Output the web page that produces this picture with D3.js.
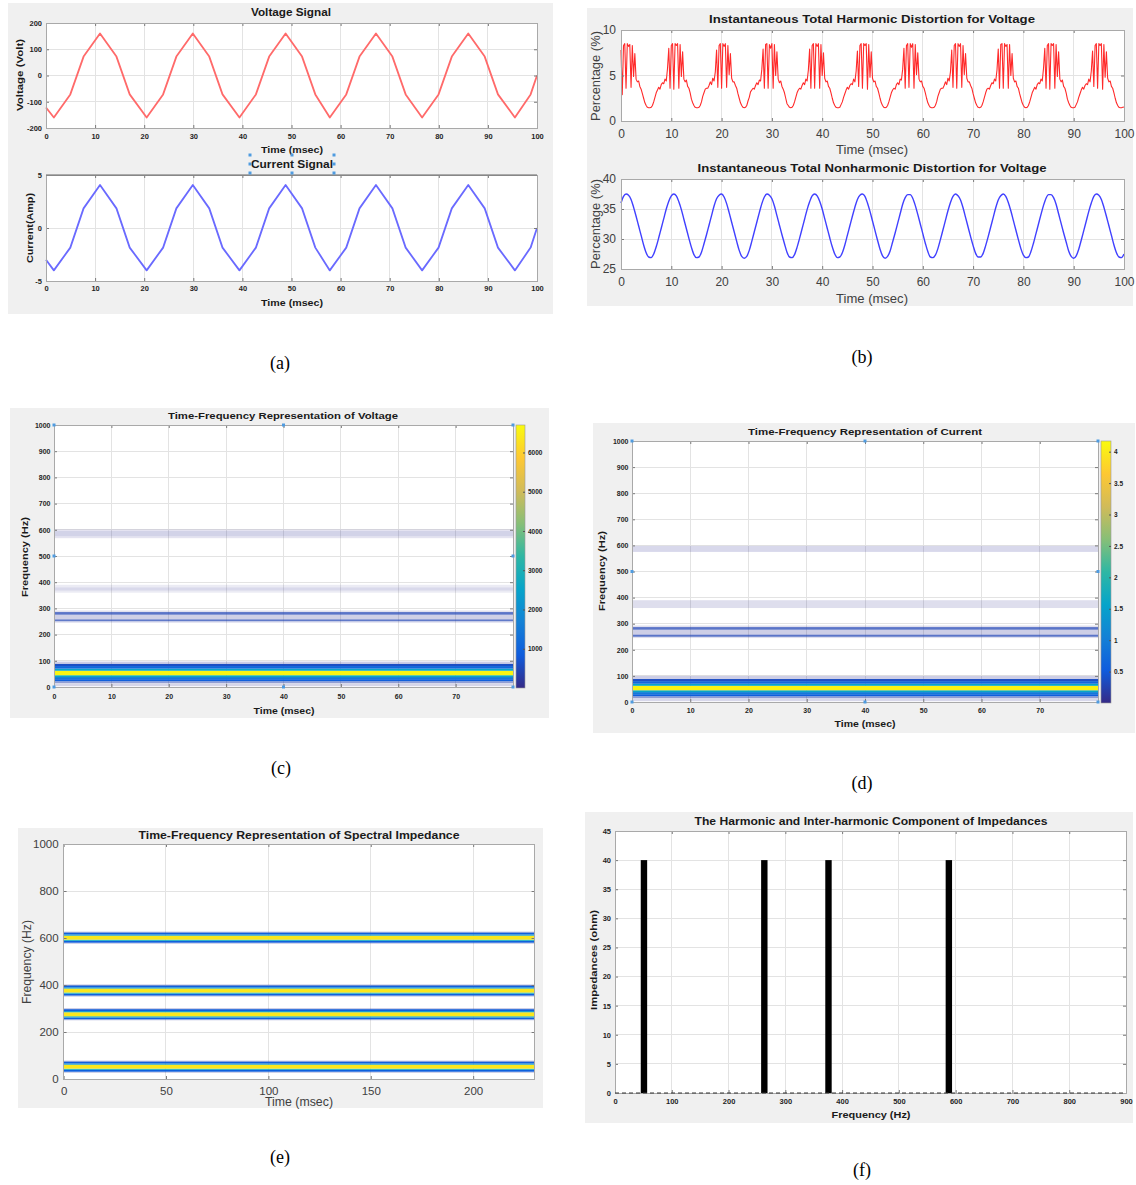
<!DOCTYPE html>
<html>
<head>
<meta charset="utf-8">
<script src="https://cdn.jsdelivr.net/npm/d3@7/dist/d3.min.js"></script>
<style>
  body { margin: 0; background: #ffffff; }
  svg { display: block; font-family: "Liberation Sans", Arial, sans-serif; }
</style>
</head>
<body>
<script>
//wrap everything in a self-executing anonymous function
(function(){

    //---------------- data ----------------

    //(a) voltage / current signal vertices (msec, Volt / Amp)
    var sigTime = [0,1.6,4.95,7.65,11.0,14.35,17.05,20.5,23.85,26.55,29.9,33.25,35.95,39.4,42.75,45.45,48.8,52.15,54.85,57.8,61.15,63.85,67.2,70.55,73.25,76.6,79.95,82.65,86.0,89.35,92.05,95.5,98.7,100];
    var voltValue = [-122,-160,-72,72,160,72,-72,-160,-72,72,160,72,-72,-160,-72,72,160,72,-72,-160,-72,72,160,72,-72,-160,-72,72,160,72,-72,-160,-72,0];
    var currValue = [-3.0,-4.0,-1.85,1.85,4.05,1.85,-1.85,-4.0,-1.85,1.85,4.05,1.85,-1.85,-4.0,-1.85,1.85,4.05,1.85,-1.85,-4.0,-1.85,1.85,4.05,1.85,-1.85,-4.0,-1.85,1.85,4.05,1.85,-1.85,-4.0,-1.85,0];

    //(b) instantaneous THD (%), one sample every 0.25 msec
    var thdStep = 0.25;
    var thdValue = [
        7.8,2.9,8.3,8.5,3.6,8.5,8.2,8.4,3.7,8.3,4.9,7.4,4.6,4.3,4.4,3.8,3.5,3.0,2.5,2.0,1.7,1.5,1.45,
        1.45,1.5,1.7,2.1,2.6,3.1,3.4,3.7,3.5,4.0,4.2,4.1,4.6,4.4,5.8,8.0,3.6,8.3,8.5,3.5,8.5,8.3,8.5,3.6,8.4,4.9,7.6,4.6,4.3,4.5,3.8,3.6,3.1,2.4,2.0,1.7,1.5,1.45,
        1.45,1.5,1.7,2.1,2.7,3.1,3.5,3.6,3.6,3.9,4.3,4.0,4.7,4.4,5.4,7.8,3.7,8.3,8.5,3.6,8.5,8.2,8.5,3.7,8.3,5.1,7.4,4.7,4.3,4.3,3.9,3.6,3.0,2.5,2.0,1.7,1.5,
        1.45,1.5,1.7,2.2,2.6,3.2,3.4,3.6,3.5,3.9,4.2,4.0,4.5,4.4,5.7,7.9,3.6,8.4,8.5,3.6,8.4,8.0,8.5,3.6,8.4,5.0,7.6,4.6,4.2,4.4,3.8,3.5,3.1,2.5,1.9,1.7,1.5,
        1.45,1.5,1.7,2.1,2.6,3.1,3.4,3.6,3.5,3.9,4.2,4.0,4.6,4.4,5.6,7.9,3.6,8.3,8.5,3.6,8.5,8.2,8.5,3.6,8.4,5.0,7.5,4.7,4.3,4.4,3.8,3.6,3.1,2.5,2.0,1.7,1.5,1.45,
        1.45,1.5,1.8,2.1,2.6,3.0,3.4,3.7,3.5,3.9,4.1,4.0,4.6,4.3,5.5,7.7,3.8,8.3,8.5,3.6,8.5,8.3,8.5,3.5,8.4,4.8,7.6,4.7,4.3,4.4,3.8,3.6,3.1,2.5,2.0,1.7,1.5,
        1.45,1.5,1.7,2.1,2.6,3.1,3.4,3.6,3.5,4.0,4.2,4.0,4.6,4.5,5.7,8.0,3.6,8.3,8.5,3.7,8.5,8.1,8.5,3.6,8.4,5.1,7.5,4.6,4.3,4.4,3.8,3.6,3.1,2.5,2.0,1.7,1.5,1.45,
        1.45,1.5,1.7,2.1,2.7,3.1,3.5,3.6,3.6,3.9,4.3,4.0,4.7,4.4,5.4,7.8,3.7,8.3,8.5,3.6,8.5,8.2,8.5,3.7,8.3,5.1,7.4,4.7,4.3,4.3,3.9,3.6,3.0,2.5,2.0,1.7,1.5,
        1.45,1.5,1.7,2.1,2.6,3.1,3.5,3.6,3.5,3.9,4.2,4.1,4.6,4.4,5.6,7.9,3.6,8.4,8.5,3.6,8.5,8.2,8.4,3.6,8.4,5.0,7.4,4.7,4.3,4.4,3.8,3.6,3.0,2.5,2.0,1.7,1.5,
        1.45,1.5,1.7,2.1,2.6,3.1,3.4,3.7,3.5,4.0,4.2,4.1,4.6,4.4,5.8,8.0,3.6,8.3,8.5,3.5,8.5,8.3,8.5,3.6,8.4,4.9,7.6,4.6,4.3,4.5,3.8,3.6,3.1,2.4,2.0,1.7,1.5,1.45,
        1.45,1.5,1.8,2.1,2.6,3.0,3.4,3.7,3.5,3.9,4.1,4.0,4.6,4.3,5.5,7.7,3.8,8.3,8.5,3.6,8.5,8.3,8.5,3.5,8.4,4.8,7.6,4.7,4.3,4.4,3.8,3.6,3.1,2.5,2.0,1.7,1.5,
        1.45,1.45,1.5,1.55
    ];

    //(b) instantaneous total nonharmonic distortion (%), one sample every 0.5 msec
    var tnhdStep = 0.5;
    var tnhdValue = [
        36.0,37.1,37.5,37.3,36.6,35.3,33.8,32.2,30.6,29.0,27.7,27.0,
        26.9,27.5,28.7,30.2,31.8,33.4,35.0,36.3,37.2,37.5,37.2,36.2,
        34.9,33.3,31.7,30.1,28.6,27.4,26.9,27.0,27.8,29.2,30.7,32.3,
        33.9,35.5,36.7,37.3,37.5,37.0,35.9,34.4,32.8,31.2,29.6,28.1,
        27.1,26.8,27.1,28.1,29.6,31.2,32.8,34.4,35.9,37.0,37.5,37.3,
        36.7,35.5,33.9,32.3,30.7,29.2,27.8,27.0,26.9,27.4,28.6,30.1,
        31.7,33.3,34.9,36.2,37.2,37.5,37.2,36.3,35.0,33.4,31.8,30.2,
        28.7,27.5,26.9,27.0,27.7,29.0,30.6,32.2,33.8,35.3,36.6,37.3,
        37.5,37.1,36.0,34.6,33.0,31.4,29.8,28.3,27.2,26.8,27.1,28.0,
        29.5,31.0,32.6,34.2,35.8,36.9,37.4,37.4,36.8,35.6,34.1,32.5,
        30.9,29.3,27.9,27.0,26.9,27.3,28.4,29.9,31.5,33.1,34.7,36.1,
        37.1,37.5,37.2,36.5,35.2,33.6,32.0,30.4,28.9,27.6,27.0,27.0,
        27.6,28.9,30.4,32.0,33.6,35.2,36.5,37.2,37.5,37.1,36.1,34.7,
        33.1,31.5,29.9,28.4,27.3,26.9,27.0,27.9,29.3,30.9,32.5,34.1,
        35.6,36.8,37.4,37.4,36.9,35.8,34.2,32.6,31.0,29.5,28.0,27.1,
        26.8,27.2,28.3,29.8,31.4,33.0,34.6,36.0,37.1,37.5,37.3,36.6,
        35.3,33.8,32.2,30.6,29.0,27.7,27.0,26.9,27.5
    ];

    //(c) spectrogram of voltage: frequency rows (Hz) and magnitude
    var cBandLo  = [3, 14, 22, 30, 38, 45, 62, 70, 80, 88, 245, 251, 258, 276, 286, 360, 368, 380, 568, 576, 596];
    var cBandHi  = [12, 22, 30, 38, 45, 62, 70, 80, 88, 97, 251, 258, 276, 286, 292, 368, 380, 390, 576, 596, 602];
    var cBandVal = [120, 300, 900, 1500, 2600, 6600, 2600, 1100, 600, 150, 90, 430, 140, 450, 90, 60, 110, 60, 80, 130, 70];
    var cBarMax = 6700;
    var cBarTicks = [1000, 2000, 3000, 4000, 5000, 6000];

    //(d) spectrogram of current
    var dBandLo  = [3, 14, 22, 30, 38, 45, 62, 70, 80, 88, 245, 250, 258, 277, 287, 360, 575];
    var dBandHi  = [12, 22, 30, 38, 45, 62, 70, 80, 88, 100, 250, 258, 277, 287, 293, 390, 598];
    var dBandVal = [0.07, 0.19, 0.56, 0.93, 1.6, 4.1, 1.6, 0.68, 0.37, 0.09, 0.06, 0.28, 0.09, 0.28, 0.06, 0.06, 0.07];
    var dBarMax = 4.17;
    var dBarTicks = [0.5, 1, 1.5, 2, 2.5, 3, 3.5, 4];

    //(e) spectral impedance (normalised magnitude)
    var eBandLo  = [576,580,588,593,610,615,623, 351,355,363,368,385,390,398, 250,254,262,267,284,289,297, 27,31,39,44,61,66,74];
    var eBandHi  = [580,588,593,610,615,623,627, 355,363,368,385,390,398,402, 254,262,267,284,289,297,301, 31,39,44,61,66,74,78];
    var eBandVal = [0.03,0.14,0.42,0.95,0.35,0.14,0.03, 0.03,0.14,0.42,0.95,0.35,0.14,0.03, 0.03,0.14,0.42,0.95,0.35,0.14,0.03, 0.03,0.14,0.42,0.95,0.35,0.14,0.03];

    //(f) harmonic / inter-harmonic impedance components
    var fFreq = [51, 263, 376, 588];
    var fImpedance = [40, 40, 40, 40];

    //tick values
    var timeTicks = [0,10,20,30,40,50,60,70,80,90,100];
    var voltTicks = [-200,-100,0,100,200];
    var currTicks = [-5,0,5];
    var thdTicks = [0,5,10];
    var tnhdTicks = [25,30,35,40];
    var tfTimeTicks = [0,10,20,30,40,50,60,70];
    var tfFreqTicks = [0,100,200,300,400,500,600,700,800,900,1000];
    var eTimeTicks = [0,50,100,150,200];
    var eFreqTicks = [0,200,400,600,800,1000];
    var fFreqTicks = [0,100,200,300,400,500,600,700,800,900];
    var fImpTicks = [0,5,10,15,20,25,30,35,40,45];

    //---------------- drawing ----------------
    var FONT = '"Liberation Sans", Arial, sans-serif';
    var svg = d3.select("body").append("svg").attr("width", 1136).attr("height", 1185);

    //MATLAB parula colour map
    var parula = d3.piecewise(d3.interpolateRgb, ["#352a87","#0f5cdd","#1481d6","#06a4ca","#2eb7a4","#87bf77","#d1bb59","#fec832","#f9fb0e"]);

    function panelBg(x0, y0, x1, y1){
        svg.append("rect").attr("x", x0).attr("y", y0).attr("width", x1 - x0).attr("height", y1 - y0).attr("fill", "#f0f0f0");
    }

    function addText(s, x, y, o){
        o = o || {};
        var t = svg.append("text").attr("x", x).attr("y", y).text(s)
            .attr("text-anchor", o.anchor || "middle")
            .attr("dominant-baseline", "central")
            .attr("font-size", o.size || 10)
            .attr("font-weight", o.weight || "normal")
            .attr("fill", o.color || "#1a1a1a");
        if (o.rotate) t.attr("transform", "rotate(-90," + x + "," + y + ")");
        if (o.len) t.attr("textLength", o.len).attr("lengthAdjust", "spacingAndGlyphs");
        if (o.family) t.attr("font-family", o.family);
        return t;
    }

    //white axes area with grid, returns scales and a group for the marks
    function makeAxes(o){
        var x = d3.scaleLinear().domain(o.xDomain).range([o.left, o.right]);
        var y = d3.scaleLinear().domain(o.yDomain).range([o.bottom, o.top]);
        var g = svg.append("g");
        g.append("rect").attr("x", o.left).attr("y", o.top)
            .attr("width", o.right - o.left).attr("height", o.bottom - o.top).attr("fill", "#fff");
        var grid = g.append("g").attr("stroke", "#e3e3e3").attr("shape-rendering", "crispEdges");
        grid.selectAll(".vg").data(o.xTicks).enter().append("line")
            .attr("x1", function(d){ return x(d); }).attr("x2", function(d){ return x(d); })
            .attr("y1", o.top).attr("y2", o.bottom);
        grid.selectAll(".hg").data(o.yTicks).enter().append("line")
            .attr("y1", function(d){ return y(d); }).attr("y2", function(d){ return y(d); })
            .attr("x1", o.left).attr("x2", o.right);
        return {x: x, y: y, g: g, marks: g.append("g"), o: o};
    }

    //box, inward ticks and tick labels on top of the marks
    function finishAxes(ax){
        var o = ax.o, g = ax.g;
        var fmt = function(d){ return String(d); };
        var none = function(){ return ""; };
        function style(sel){
            sel.attr("font-family", FONT);
            sel.select(".domain").remove();
            sel.selectAll(".tick line").attr("stroke", "#7a7a7a");
            sel.selectAll("text").attr("font-size", o.tickSize).attr("font-weight", o.tickWeight).attr("fill", o.tickColor);
        }
        g.append("g").attr("transform", "translate(0," + o.bottom + ")")
            .call(d3.axisBottom(ax.x).tickValues(o.xTicks).tickSize(-3).tickPadding(o.xPad).tickFormat(fmt)).call(style);
        g.append("g").attr("transform", "translate(" + o.left + ",0)")
            .call(d3.axisLeft(ax.y).tickValues(o.yTicks).tickSize(-3).tickPadding(o.yPad).tickFormat(fmt)).call(style);
        g.append("g").attr("transform", "translate(0," + o.top + ")")
            .call(d3.axisTop(ax.x).tickValues(o.xTicks).tickSize(-3).tickFormat(none)).call(style);
        g.append("g").attr("transform", "translate(" + o.right + ",0)")
            .call(d3.axisRight(ax.y).tickValues(o.yTicks).tickSize(-3).tickFormat(none)).call(style);
        g.append("rect").attr("x", o.left).attr("y", o.top)
            .attr("width", o.right - o.left).attr("height", o.bottom - o.top)
            .attr("fill", "none").attr("stroke", "#a9a9a9").attr("shape-rendering", "crispEdges");
    }

    function drawLine(ax, xs, ys, color, width, curve){
        var pts = ys.map(function(v, i){ return [xs[i], v]; });
        ax.marks.append("path").datum(pts)
            .attr("fill", "none").attr("stroke", color).attr("stroke-width", width)
            .attr("stroke-linejoin", "round")
            .attr("d", d3.line().x(function(d){ return ax.x(d[0]); }).y(function(d){ return ax.y(d[1]); }).curve(curve || d3.curveLinear));
    }

    //spectrogram rows drawn as full-width bands; low values fade into white
    function drawBands(ax, lo, hi, val, vmax){
        var color = d3.scaleSequential(parula).domain([0, vmax]);
        var x0 = ax.x(ax.o.xDomain[0]), x1 = ax.x(ax.o.xDomain[1]);
        ax.marks.selectAll(".band").data(val).enter().append("rect")
            .attr("class", "band")
            .attr("x", x0).attr("width", x1 - x0)
            .attr("y", function(d, i){ return ax.y(hi[i]); })
            .attr("height", function(d, i){ return ax.y(lo[i]) - ax.y(hi[i]); })
            .attr("fill", function(d){ return color(d); })
            .attr("fill-opacity", function(d){ return Math.min(1, d / vmax / 0.09); });
    }

    function drawColorbar(id, x0, x1, y0, y1, vmax, ticks){
        var grad = svg.append("defs").append("linearGradient").attr("id", id)
            .attr("x1", 0).attr("y1", 1).attr("x2", 0).attr("y2", 0);
        d3.range(0, 1.0001, 0.125).forEach(function(t){
            grad.append("stop").attr("offset", t).attr("stop-color", parula(t));
        });
        svg.append("rect").attr("x", x0).attr("y", y0).attr("width", x1 - x0).attr("height", y1 - y0)
            .attr("fill", "url(#" + id + ")").attr("stroke", "#999").attr("stroke-width", 0.6);
        var s = d3.scaleLinear().domain([0, vmax]).range([y1, y0]);
        var g = svg.append("g").attr("transform", "translate(" + x1 + ",0)")
            .call(d3.axisRight(s).tickValues(ticks).tickSize(-2).tickPadding(3).tickFormat(function(d){ return String(d); }));
        g.attr("font-family", FONT);
        g.select(".domain").remove();
        g.selectAll(".tick line").attr("stroke", "#555");
        g.selectAll("text").attr("font-size", 6.5).attr("font-weight", "bold").attr("fill", "#222");
    }

    function drawHandles(ax, pts){
        ax.g.selectAll(".handle").data(pts).enter().append("rect")
            .attr("x", function(d){ return ax.x(d[0]) - 1.5; })
            .attr("y", function(d){ return ax.y(d[1]) - 1.5; })
            .attr("width", 3).attr("height", 3).attr("fill", "#4f9be0");
    }

    var boldTicks = {tickSize: 7.5, tickWeight: "bold", tickColor: "#1f1f1f"};
    var plainTicks = {tickSize: 12, tickWeight: "normal", tickColor: "#404040"};
    function opts(base, extra){ return Object.assign({}, base, extra); }

    //---------------- (a) voltage and current signal ----------------
    panelBg(8, 3, 553, 314);
    var axV = makeAxes(opts(boldTicks, {left: 46, right: 537, top: 23, bottom: 128,
        xDomain: [0, 100], yDomain: [-200, 200], xTicks: timeTicks, yTicks: voltTicks, xPad: 6, yPad: 4}));
    drawLine(axV, sigTime, voltValue, "#ff6a6a", 1.8);
    finishAxes(axV);
    addText("Voltage Signal", 291, 12, {size: 10.5, weight: "bold", len: 80});
    addText("Time (msec)", 292, 150, {size: 8.5, weight: "bold", len: 62});
    addText("Voltage (Volt)", 20, 75, {size: 8.5, weight: "bold", rotate: true, len: 72});

    var axI = makeAxes(opts(boldTicks, {left: 46, right: 537, top: 175, bottom: 281,
        xDomain: [0, 100], yDomain: [-5, 5], xTicks: timeTicks, yTicks: currTicks, xPad: 5, yPad: 4}));
    drawLine(axI, sigTime, currValue, "#6a6aff", 1.8);
    finishAxes(axI);
    axI.g.append("line").attr("x1", 46).attr("x2", 537).attr("y1", 175).attr("y2", 175).attr("stroke", "#666");
    addText("Current Signal", 292, 164, {size: 10.5, weight: "bold", len: 82});
    [[250,155],[292,155],[334,155],[250,164],[334,164],[250,173],[292,173],[334,173]].forEach(function(p){
        svg.append("rect").attr("x", p[0] - 1.5).attr("y", p[1] - 1.5).attr("width", 3).attr("height", 3).attr("fill", "#4f9be0");
    });
    addText("Time (msec)", 292, 303, {size: 8.5, weight: "bold", len: 62});
    addText("Current(Amp)", 30, 228, {size: 8.5, weight: "bold", rotate: true, len: 70});

    //---------------- (b) THD and nonharmonic distortion ----------------
    panelBg(587, 8, 1133, 306);
    var axThd = makeAxes(opts(plainTicks, {left: 621, right: 1124, top: 30, bottom: 121,
        xDomain: [0, 100], yDomain: [0, 10], xTicks: timeTicks, yTicks: thdTicks, xPad: 8.5, yPad: 5}));
    drawLine(axThd, thdValue.map(function(d, i){ return i * thdStep; }), thdValue, "#ff2a2a", 1.1);
    finishAxes(axThd);
    addText("Instantaneous Total Harmonic Distortion for Voltage", 872, 19, {size: 11, weight: "bold", len: 326});
    addText("Time (msec)", 872, 150, {size: 12.5, color: "#404040", len: 72});
    addText("Percentage (%)", 596, 76, {size: 12.5, color: "#404040", rotate: true, len: 90});

    var axNh = makeAxes(opts(plainTicks, {left: 621, right: 1124, top: 179, bottom: 269,
        xDomain: [0, 100], yDomain: [25, 40], xTicks: timeTicks, yTicks: tnhdTicks, xPad: 8.5, yPad: 5}));
    drawLine(axNh, tnhdValue.map(function(d, i){ return i * tnhdStep; }), tnhdValue, "#4040ff", 1.4, d3.curveMonotoneX);
    finishAxes(axNh);
    addText("Instantaneous Total Nonharmonic Distortion for Voltage", 872, 168, {size: 11, weight: "bold", len: 349});
    addText("Time (msec)", 872, 299, {size: 12.5, color: "#404040", len: 72});
    addText("Percentage (%)", 596, 224, {size: 12.5, color: "#404040", rotate: true, len: 90});

    //---------------- (c) time-frequency of voltage ----------------
    panelBg(10, 408, 549, 718);
    var axC = makeAxes(opts(boldTicks, {tickSize: 7, left: 54, right: 513, top: 425, bottom: 687,
        xDomain: [0, 80], yDomain: [0, 1000], xTicks: tfTimeTicks, yTicks: tfFreqTicks, xPad: 7, yPad: 3.5}));
    drawBands(axC, cBandLo, cBandHi, cBandVal, cBarMax);
    finishAxes(axC);
    drawHandles(axC, [[0,0],[40,0],[80,0],[0,500],[80,500],[0,1000],[40,1000],[80,1000]]);
    drawColorbar("cbarC", 516, 525, 425, 688, cBarMax, cBarTicks);
    addText("Time-Frequency Representation of Voltage", 283, 415, {size: 9.5, weight: "bold", len: 230});
    addText("Time (msec)", 284, 711, {size: 8.5, weight: "bold", len: 61});
    addText("Frequency (Hz)", 25, 557, {size: 8.5, weight: "bold", rotate: true, len: 80});

    //---------------- (d) time-frequency of current ----------------
    panelBg(593, 423, 1135, 733);
    var axD = makeAxes(opts(boldTicks, {tickSize: 7, left: 632, right: 1098, top: 441, bottom: 702,
        xDomain: [0, 80], yDomain: [0, 1000], xTicks: tfTimeTicks, yTicks: tfFreqTicks, xPad: 6.5, yPad: 3.5}));
    drawBands(axD, dBandLo, dBandHi, dBandVal, dBarMax);
    finishAxes(axD);
    drawHandles(axD, [[0,0],[40,0],[80,0],[0,500],[80,500],[0,1000],[40,1000],[80,1000]]);
    drawColorbar("cbarD", 1101, 1111, 441, 703, dBarMax, dBarTicks);
    addText("Time-Frequency Representation of Current", 865, 431, {size: 9.5, weight: "bold", len: 234});
    addText("Time (msec)", 865, 724, {size: 8.5, weight: "bold", len: 61});
    addText("Frequency (Hz)", 602, 571, {size: 8.5, weight: "bold", rotate: true, len: 80});

    //---------------- (e) spectral impedance ----------------
    panelBg(18, 828, 543, 1108);
    var axE = makeAxes(opts(plainTicks, {tickSize: 11.5, left: 63.6, right: 534.6, top: 844, bottom: 1079,
        xDomain: [0, 230], yDomain: [0, 1000], xTicks: eTimeTicks, yTicks: eFreqTicks, xPad: 8, yPad: 5}));
    drawBands(axE, eBandLo, eBandHi, eBandVal, 1);
    finishAxes(axE);
    addText("Time-Frequency Representation of Spectral Impedance", 299, 835, {size: 10.5, weight: "bold", len: 321});
    addText("Time (msec)", 299, 1102, {size: 12.5, color: "#404040", len: 68});
    addText("Frequency (Hz)", 27, 962, {size: 12.5, color: "#404040", rotate: true, len: 84});

    //---------------- (f) harmonic / inter-harmonic impedances ----------------
    panelBg(585, 812, 1133, 1123);
    var axF = makeAxes(opts(boldTicks, {left: 615, right: 1126, top: 831, bottom: 1093,
        xDomain: [0, 900], yDomain: [0, 45], xTicks: fFreqTicks, yTicks: fImpTicks, xPad: 6, yPad: 4}));
    axF.marks.selectAll(".stem").data(fFreq).enter().append("rect")
        .attr("x", function(d){ return axF.x(d) - 3.2; })
        .attr("width", 6.4)
        .attr("y", function(d, i){ return axF.y(fImpedance[i]); })
        .attr("height", function(d, i){ return axF.y(0) - axF.y(fImpedance[i]); })
        .attr("fill", "#000");
    finishAxes(axF);
    axF.g.append("line").attr("x1", 615).attr("x2", 1126).attr("y1", axF.y(0)).attr("y2", axF.y(0))
        .attr("stroke", "#333").attr("stroke-dasharray", "4,3");
    addText("The Harmonic and Inter-harmonic Component of Impedances", 871, 821, {size: 10, weight: "bold", len: 353});
    addText("Frequency (Hz)", 871, 1115, {size: 8.5, weight: "bold", len: 79});
    addText("Impedances (ohm)", 594, 960, {size: 8.5, weight: "bold", rotate: true, len: 100});

    //---------------- captions ----------------
    var serif = '"Liberation Serif", "Times New Roman", serif';
    [["(a)", 280, 363], ["(b)", 862, 357], ["(c)", 281, 768], ["(d)", 862, 783], ["(e)", 280, 1157], ["(f)", 862, 1170]]
        .forEach(function(c){ addText(c[0], c[1], c[2], {size: 18, family: serif, color: "#000"}); });

})();
</script>
</body>
</html>
